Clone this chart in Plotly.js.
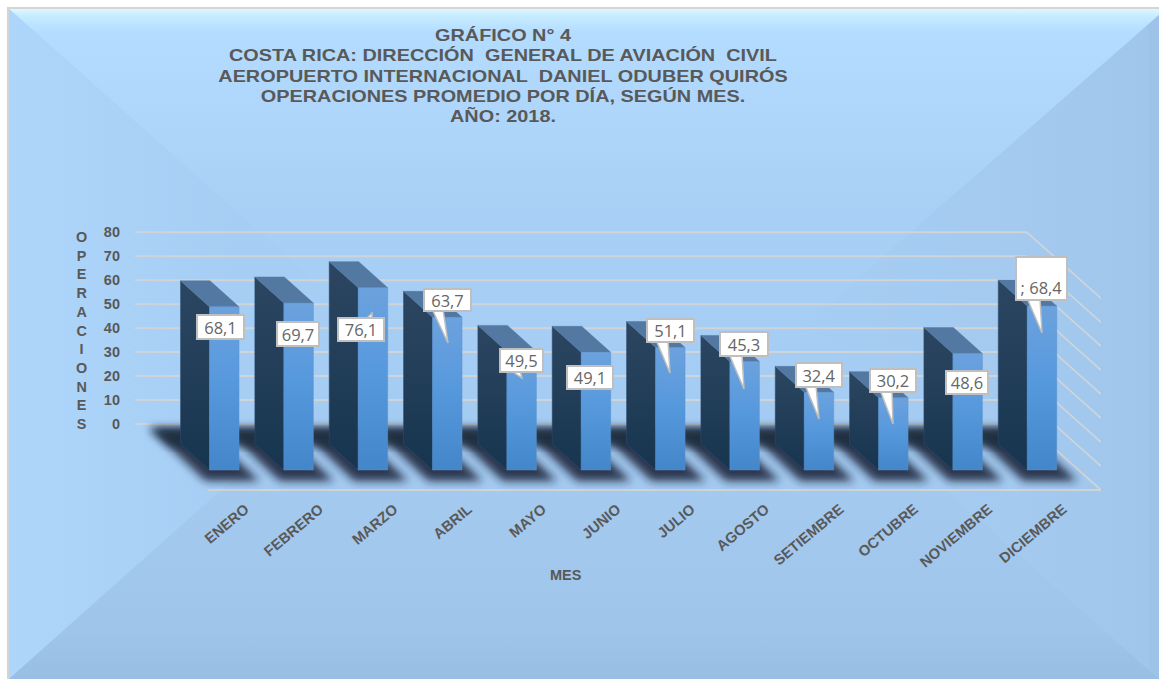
<!DOCTYPE html>
<html><head><meta charset="utf-8">
<script src="https://cdn.plot.ly/plotly-3.0.1.min.js"></script>
<style>
html,body{margin:0;padding:0;background:#fff;overflow:hidden}
#bg{position:absolute;left:0;top:0}
#chart{position:absolute;left:0;top:0;width:1159px;height:679px}
</style></head><body>
<svg id="bg" width="1159" height="679">
<defs>
<linearGradient id="gTop" gradientUnits="userSpaceOnUse" x1="0" y1="9" x2="0" y2="344"><stop offset="0" stop-color="#ddf8ff"/><stop offset="0.02" stop-color="#c6ecff"/><stop offset="0.07" stop-color="#b4dcff"/><stop offset="0.6" stop-color="#a8cff5"/><stop offset="1" stop-color="#a6cdf3"/></linearGradient>
<linearGradient id="gLeft" gradientUnits="userSpaceOnUse" x1="9" y1="0" x2="385" y2="0"><stop offset="0" stop-color="#aed6fb"/><stop offset="0.6" stop-color="#a6cdf3"/><stop offset="1" stop-color="#a6cdf3"/></linearGradient>
<linearGradient id="gRight" gradientUnits="userSpaceOnUse" x1="783" y1="0" x2="1159" y2="0"><stop offset="0" stop-color="#a6cdf3"/><stop offset="0.6" stop-color="#a4caf0"/><stop offset="0.97" stop-color="#a0c6ec"/><stop offset="0.975" stop-color="#9ec3e8"/><stop offset="1" stop-color="#9ec3e8"/></linearGradient>
<linearGradient id="gBot" gradientUnits="userSpaceOnUse" x1="0" y1="344" x2="0" y2="679"><stop offset="0" stop-color="#a6cdf3"/><stop offset="0.5" stop-color="#a3c9ef"/><stop offset="0.85" stop-color="#9fc5ea"/><stop offset="1" stop-color="#99bee3"/></linearGradient>
</defs>
<rect x="7" y="7" width="1152" height="672" fill="#d4d4d4"/>
<rect x="9" y="9" width="1150" height="670" fill="#a6cdf3"/>
<polygon points="9,9 1159,9 1159,15 783,344 385,344" fill="url(#gTop)"/>
<polygon points="9,9 385,344 9,679" fill="url(#gLeft)"/>
<polygon points="1159,15 783,344 1159,679" fill="url(#gRight)"/>
<polygon points="9,679 385,344 783,344 1159,679" fill="url(#gBot)"/>
</svg>
<div id="chart"></div>
<script>
// ---- data ----
var months = ["ENERO","FEBRERO","MARZO","ABRIL","MAYO","JUNIO","JULIO","AGOSTO","SETIEMBRE","OCTUBRE","NOVIEMBRE","DICIEMBRE"];
var operaciones = [68.1,69.7,76.1,63.7,49.5,49.1,51.1,45.3,32.4,30.2,48.6,68.4];
var labels = ["68,1","69,7","76,1","63,7","49,5","49,1","51,1","45,3","32,4","30,2","48,6","; 68,4"];
var yTicks = [0,10,20,30,40,50,60,70,80];
var titleLines = ["GRÁFICO N° 4","COSTA RICA: DIRECCIÓN  GENERAL DE AVIACIÓN  CIVIL","AEROPUERTO INTERNACIONAL  DANIEL ODUBER QUIRÓS","OPERACIONES PROMEDIO POR DÍA, SEGÚN MES.","AÑO: 2018."];

// ---- callout styling (pixel boxes relative to the page; tails as tip and base) ----
var boxes = [[196,314,245,340],[276,321,320,347],[337,317,385,342],[423,288,472,312],[499,348,544,373],[566,365,614,390],[646,318,695,343],[719,331,769,357],[795,362,843,388],[869,368,917,393],[945,370,989,395],[1015,256,1068,301]];
var tails = [null,null,[365,372,372,313],[432,443,448,343],[510,520,522,378],null,[656,668,670,373],[729,742,744,389],[805,816,819,419],[880,892,893,424],null,[1027,1040,1042,333]];

// ---- geometry of the pseudo-3D projection ----
var W=1159,H=679, L=135,R=1101,T=228,B=491;
var pxX=74.34, x0=224.25, pxY=2.396, zeroPx=424;
var xr=[(L-x0)/pxX,(R-x0)/pxX], yr=[(zeroPx-B)/pxY,(zeroPx-T)/pxY];
var barW=29.5/pxX, dx=29/pxX, dy=26/pxY, floorFront=(zeroPx-470)/pxY;
var wallDx=74/pxX, wallDy=66/pxY;
function dataY(p){return (zeroPx-p)/pxY;}
function dataX(p){return (p-x0)/pxX;}

var traces=[];
// floor shadow (blurred after render)
months.forEach(function(m,i){
  var xL=x0+i*pxX-14.75;
  traces.push({type:'scatter',mode:'none',fill:'toself',fillcolor:'rgba(20,34,52,0.86)',hoverinfo:'skip',showlegend:false,name:'sombra',
    x:[xL-60,xL-6,xL+50,xL-4].map(dataX),y:[428,428,481,481].map(dataY)});
});
traces.push({type:'scatter',mode:'none',fill:'toself',fillcolor:'rgba(28,42,62,0.78)',hoverinfo:'skip',showlegend:false,name:'sombra',
  x:[150,1030,1050,170].map(dataX),y:[429,429,446,446].map(dataY)});
// side faces + top faces
months.forEach(function(m,i){
  var v=operaciones[i], l=i-barW/2, r=i+barW/2, top=v+floorFront;
  traces.push({type:'scatter',mode:'lines',line:{color:'#2f4f70',width:0.5},fill:'toself',
    fillgradient:{type:'vertical',colorscale:[[0,'#17354f'],[1,'#2c4661']]},hoverinfo:'skip',showlegend:false,name:m+' lateral',
    x:[l,l,l-dx,l-dx,l],y:[floorFront,top,top+dy,floorFront+dy,floorFront]});
  traces.push({type:'scatter',mode:'lines',line:{color:'#5379a3',width:0.5},fill:'toself',fillcolor:'#5379a3',hoverinfo:'skip',showlegend:false,name:m+' superior',
    x:[l,r,r-dx,l-dx,l],y:[top,top,top+dy,top+dy,top]});
});
// front faces: the actual bars
traces.push({type:'bar',x:months.map(function(m,i){return i;}),y:operaciones,base:floorFront,width:barW,
  marker:{color:'#5a97da',line:{color:'#5b93cf',width:0.5}},hoverinfo:'skip',showlegend:false,name:'Operaciones'});

// grid and wall lines
var gridColor='#cfd4d9';
var shapes=[];
yTicks.forEach(function(t){
  shapes.push({type:'line',layer:'below',xref:'x',yref:'y',x0:xr[0],x1:dataX(1027),y0:t,y1:t,line:{color:gridColor,width:2}});
  shapes.push({type:'line',layer:'below',xref:'x',yref:'y',x0:dataX(1027),x1:dataX(1027)+wallDx,y0:t,y1:t-wallDy,line:{color:gridColor,width:1.7}});
});
shapes.push({type:'line',layer:'below',xref:'x',yref:'y',x0:dataX(208),x1:dataX(1101),y0:dataY(490),y1:dataY(490),line:{color:gridColor,width:2}});
// callout tails
tails.forEach(function(t,i){
  if(!t) return;
  var b=boxes[i], by=b[3]-3, tipY=t[3];
  if(tipY<b[1]) by=b[1]+3;
  var ax=dataX(t[2]), ay=dataY(tipY);
  shapes.push({type:'path',layer:'above',xref:'x',yref:'y',xsizemode:'pixel',ysizemode:'pixel',xanchor:ax,yanchor:ay,
    path:'M'+(t[0]-t[2])+','+(tipY-by)+' L0,0 L'+(t[1]-t[2])+','+(tipY-by)+' Z',
    fillcolor:'#ffffff',line:{color:'#bfbfbf',width:1.5}});
});

var font='"Liberation Sans",Arial,sans-serif', grey='#595959';
var annotations=[];
boxes.forEach(function(b,i){
  annotations.push({xref:'x',yref:'y',x:dataX((b[0]+b[2])/2),y:dataY((b[1]+b[3])/2),showarrow:false,
    text:labels[i],width:b[2]-b[0]-4,height:b[3]-b[1]-4,align:'center',valign:i==11?'bottom':'middle',
    bgcolor:'#ffffff',bordercolor:'#bfbfbf',borderwidth:2,borderpad:0,font:{family:'"Open Sans",sans-serif',size:16.5,color:'#666666'}});
});
// vertical stacked y title and x title
annotations.push({xref:'paper',yref:'paper',x:(81-L)/(R-L),y:(B-330)/(B-T),xanchor:'center',yanchor:'middle',showarrow:false,
  text:"O<br>P<br>E<br>R<br>A<br>C<br>I<br>O<br>N<br>E<br>S",font:{family:font,size:14.4,color:grey,weight:700}});
annotations.push({xref:'paper',yref:'paper',x:(566-L)/(R-L),y:(B-575)/(B-T),xanchor:'center',yanchor:'middle',showarrow:false,
  text:"MES",font:{family:font,size:14.5,color:grey,weight:700}});

var layout={
  width:W,height:H,autosize:false,paper_bgcolor:'rgba(0,0,0,0)',plot_bgcolor:'rgba(0,0,0,0)',showlegend:false,
  margin:{l:L,r:W-R,t:T,b:H-B,pad:0},
  title:{text:titleLines.join('<br>'),x:503/W,xanchor:'center',xref:'container',y:1-41/H,yref:'container',yanchor:'top',
    font:{family:font,size:16.5,color:grey,weight:700}},
  xaxis:{type:'linear',range:xr,tickmode:'array',tickvals:months.map(function(m,i){return i;}),ticktext:months,tickangle:-40,
    ticklabelshift:21,showgrid:false,zeroline:false,showline:false,ticks:'',ticklabelstandoff:6,
    tickfont:{family:font,size:14.7,color:grey,weight:700}},
  yaxis:{range:yr,tickmode:'array',tickvals:yTicks,showgrid:false,zeroline:false,showline:false,ticks:'',ticklabelstandoff:14,
    tickfont:{family:font,size:14.5,color:grey,weight:700}},
  shapes:shapes,annotations:annotations,barmode:'overlay'
};
Plotly.newPlot('chart',traces,layout,{displayModeBar:false,staticPlot:true}).then(function(gd){
  var svg=gd.querySelector('.main-svg');
  var NS='http://www.w3.org/2000/svg';
  var defs=svg.querySelector('defs')||svg.insertBefore(document.createElementNS(NS,'defs'),svg.firstChild);
  defs.insertAdjacentHTML('beforeend','<linearGradient id="frontGrad" x1="0" y1="0" x2="0" y2="1"><stop offset="0" stop-color="#6ca2dd"/><stop offset="0.45" stop-color="#5799dd"/><stop offset="1" stop-color="#4386ca"/></linearGradient>'+
   '<filter id="softShadow" x="-30%" y="-30%" width="160%" height="160%"><feGaussianBlur stdDeviation="4"/></filter>');
  gd.querySelectorAll('.barlayer path').forEach(function(p){p.style.fill='url(#frontGrad)';});
  var tr=gd.querySelectorAll('.scatterlayer .trace');
  for(var i=0;i<=months.length;i++){ if(tr[i]) tr[i].setAttribute('filter','url(#softShadow)'); }
  // draw the front faces over the floor shadow
  var bl=gd.querySelector('.barlayer');
  if(bl&&bl.parentNode) bl.parentNode.appendChild(bl);
  // the reference's title is stretched sideways and set tight
  var title=gd.querySelector('.gtitle');
  if(title){
    title.querySelectorAll('tspan.line').forEach(function(s,k){ s.setAttribute('dy',(k*20.3)+'px'); });
    title.setAttribute('transform','translate(503,0) scale(1.205,1) translate(-503,0)');
  }
});
</script>
</body></html>
